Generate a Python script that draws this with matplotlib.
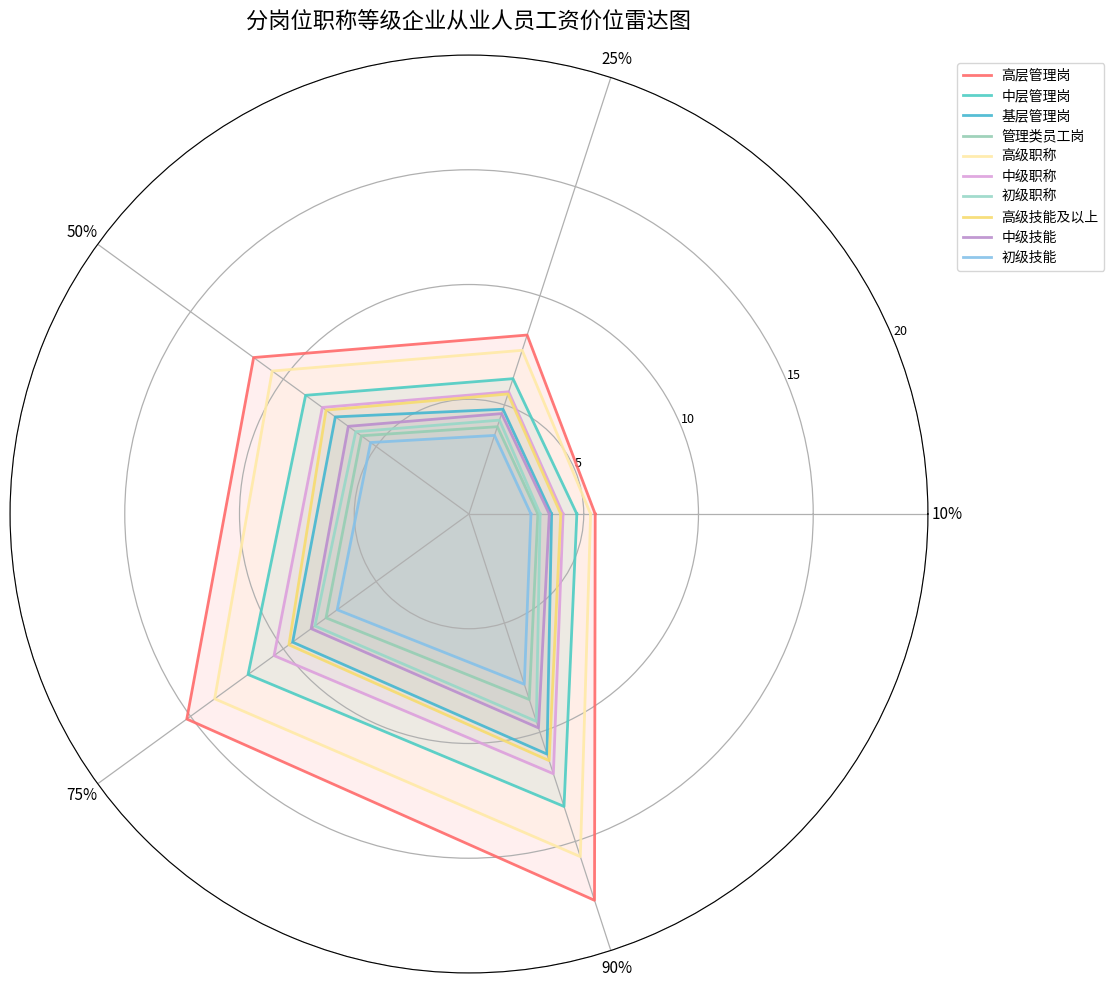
import numpy as np
import matplotlib
matplotlib.use("Agg")
import matplotlib.pyplot as plt

plt.rcParams["font.family"] = ["Noto Sans CJK SC", "DejaVu Sans"]
plt.rcParams["axes.unicode_minus"] = False

# percentile axes
categories = ["10%", "25%", "50%", "75%", "90%"]

# wage levels per group
series_names = [
    "高层管理岗", "中层管理岗", "基层管理岗", "管理类员工岗",
    "高级职称", "中级职称", "初级职称",
    "高级技能及以上", "中级技能", "初级技能",
]
top_mgmt = [5.5, 8.2, 11.6, 15.2, 17.7]
mid_mgmt = [4.7, 6.2, 8.8, 11.9, 13.4]
base_mgmt = [3.6, 4.8, 7.2, 9.5, 11.0]
mgmt_staff = [3.0, 4.0, 5.8, 7.7, 8.5]
senior_title = [5.3, 7.5, 10.6, 13.7, 15.7]
mid_title = [4.1, 5.6, 7.9, 10.5, 11.9]
junior_title = [3.1, 4.3, 6.1, 8.3, 9.5]
senior_skill = [4.0, 5.5, 7.7, 9.7, 11.3]
mid_skill = [3.5, 4.6, 6.5, 8.5, 9.8]
junior_skill = [2.7, 3.6, 5.3, 7.1, 7.8]

all_series = [top_mgmt, mid_mgmt, base_mgmt, mgmt_staff, senior_title,
              mid_title, junior_title, senior_skill, mid_skill, junior_skill]

colors = ["#FF6B6B", "#4ECDC4", "#45B7D1", "#96CEB4", "#FFEAA7",
          "#DDA0DD", "#98D8C8", "#F7DC6F", "#BB8FCE", "#85C1E9"]

angles = np.linspace(0, 2 * np.pi, len(categories), endpoint=False).tolist()
angles += angles[:1]

fig = plt.figure(figsize=(11.14, 9.86), dpi=100)
ax = fig.add_axes([0.009, 0.0132, 0.824, 0.931], projection="polar")

for name, vals, col in zip(series_names, all_series, colors):
    v = list(vals) + vals[:1]
    ax.plot(angles, v, color=col, linewidth=2, alpha=0.9, label=name)
    ax.fill(angles, v, color=col, alpha=0.1)

ax.set_xticks(angles[:-1])
ax.set_xticklabels(categories, fontsize=11)
ax.set_ylim(0, 20)
ax.set_yticks([5, 10, 15, 20])
ax.set_yticklabels(["5", "10", "15", "20"], fontsize=9)
ax.grid(True, color="#b0b0b0", linewidth=0.9)

fig.suptitle("分岗位职称等级企业从业人员工资价位雷达图", fontsize=16,
             x=0.421, y=0.989)

fig.legend(loc="upper left", bbox_to_anchor=(0.853, 0.943), fontsize=10,
           labelspacing=0.45, borderpad=0.4)

fig.savefig("out.png", dpi=100)
